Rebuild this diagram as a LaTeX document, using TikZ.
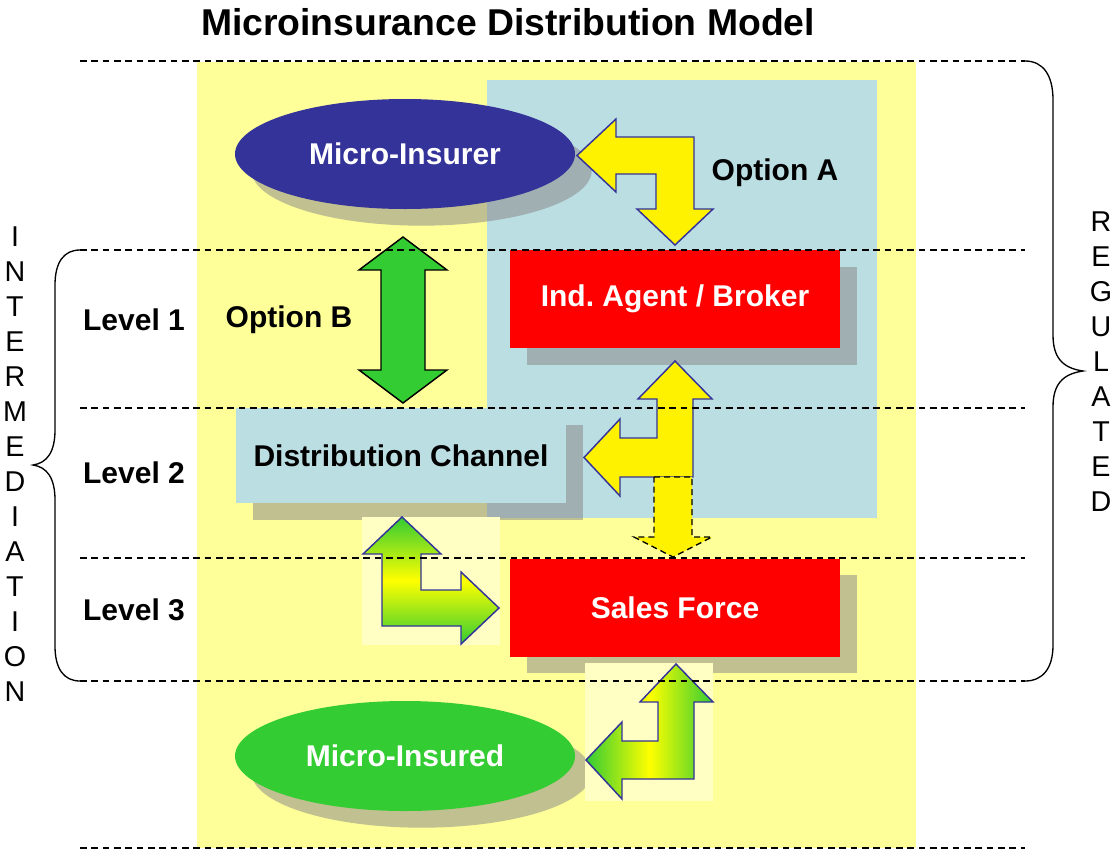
\documentclass[tikz,border=0pt]{standalone}
\usepackage{fontspec}
\setmainfont{Liberation Sans}
\usetikzlibrary{shapes.geometric,shadows}

\definecolor{paleyellow}{RGB}{255,255,153}
\definecolor{paleblue}{RGB}{187,222,227}
\definecolor{insurerblue}{RGB}{51,51,153}
\definecolor{insuredgreen}{RGB}{51,204,51}
\definecolor{agentred}{RGB}{255,0,0}
\definecolor{shadowgray}{RGB}{136,136,136}
\definecolor{glowyellow}{RGB}{255,255,196}

\begin{document}
\begin{tikzpicture}[
		x=0.75pt, y=-0.75pt,
		every node/.style={font=\fontsize{22.5}{27}\selectfont\bfseries},
		casts/.style={drop shadow={shadow xshift=12.5pt, shadow yshift=-12.5pt, fill=shadowgray, opacity=.53}},
		oval/.style={ellipse, minimum width=255pt, minimum height=82.5pt, inner sep=0pt, text=white, casts},
		redbox/.style={rectangle, fill=agentred, text=white, minimum width=247.5pt, minimum height=73.5pt, inner sep=0pt, casts},
		bluebox/.style={rectangle, fill=paleblue, minimum width=247.5pt, minimum height=71.25pt, inner sep=0pt, casts},
		levelline/.style={dash pattern=on 5pt off 3.5pt, line width=1pt},
		blockarrow/.style={draw=insurerblue, line width=1.1pt, line join=miter},
		brace/.style={line width=1pt},
		letters/.style={font=\fontsize{21.5}{26.25}\selectfont, align=center, inner sep=0pt},
	]
		\useasboundingbox (0,0) rectangle (1116,850);
		
		% background areas
		\fill[paleyellow] (197,62) rectangle (916,848);
		\fill[paleblue] (487,80) rectangle (877,518);
		
		\node (title) at (508,22) [font=\fontsize{28}{34}\selectfont\bfseries] {Microinsurance Distribution Model};
		
		% parties
		\node (insurer) [oval, fill=insurerblue] at (405,154) {Micro-Insurer};
		\node (agent) [redbox] at (675,299) {Ind.\ Agent / Broker};
		\node (channel) [bluebox] at (401,455.5) {Distribution Channel};
		\node (sales) [redbox] at (675,607.5) {Sales Force};
		\node (insured) [oval, fill=insuredgreen] at (405,756) {Micro-Insured};
		
		% option A
		\draw[blockarrow, fill=yellow] (577,155.5) -- (616,119) -- (616,137) -- (694,137) -- (694,209) -- (713,209) -- (675,245) -- (637,209) -- (656,209) -- (656,174) -- (616,174) -- (616,192) -- cycle;
		% option B
		\draw[line width=1.1pt, line join=miter, fill=insuredgreen] (403,237) -- (447,270) -- (425,270) -- (425,370) -- (447,370) -- (403,403) -- (359,370) -- (381,370) -- (381,270) -- (359,270) -- cycle;
		% agent to channel
		\draw[blockarrow, fill=yellow] (675,361) -- (712,399) -- (693,399) -- (693,477) -- (620,477) -- (620,496) -- (584,457.5) -- (620,419) -- (620,438) -- (657,438) -- (657,399) -- (638,399) -- cycle;
		\draw[dash pattern=on 4.5pt off 3pt, line width=1pt, fill=yellow] (654,477) -- (692,477) -- (692,537) -- (712,537) -- (673,557) -- (634,537) -- (654,537) -- cycle;
		% channel to sales force
		\fill[glowyellow] (362,517) rectangle (500,645);
		\draw[blockarrow, top color=insuredgreen, bottom color=insuredgreen, middle color=yellow] (402,517) -- (441,554) -- (421,554) -- (421,590) -- (461,590) -- (461,572) -- (499,608) -- (461,644) -- (461,626) -- (382,626) -- (382,554) -- (363,554) -- cycle;
		% sales force to insured
		\fill[glowyellow] (585,663) rectangle (713,801);
		\draw[blockarrow, left color=insuredgreen, right color=insuredgreen, middle color=yellow] (676,664) -- (713,702) -- (694,702) -- (694,779) -- (622,779) -- (622,799) -- (586,760) -- (622,722) -- (622,741) -- (658,741) -- (658,702) -- (640,702) -- cycle;
		
		% levels
		\foreach \y in {61,250,408,558,681,848}
			\draw[levelline] (80,\y) -- (1025,\y);
		
		\node (level1) at (134,320) {Level 1};
		\node (level2) at (134,473) {Level 2};
		\node (level3) at (134,610) {Level 3};
		\node (optionA) at (775,173) {Option A};
		\node (optionB) at (289,320) {Option B};
		
		% braces
		\draw[brace] (80,250) .. controls (64,250) and (55,262) .. (55,285) -- (55,430) .. controls (55,452) and (47,463) .. (33,465) .. controls (47,467) and (55,478) .. (55,500) -- (55,646) .. controls (55,669) and (64,681) .. (80,681);
		\draw[brace] (1025,61) .. controls (1043,61) and (1053,75) .. (1053,100) -- (1053,335) .. controls (1053,357) and (1062,368) .. (1083,371) .. controls (1062,374) and (1053,385) .. (1053,407) -- (1053,645) .. controls (1053,668) and (1043,681) .. (1025,681);
		
		\node (intermediation) [letters] at (15,464.5) {I\\N\\T\\E\\R\\M\\E\\D\\I\\A\\T\\I\\O\\N};
		\node (regulated) [letters] at (1101,362) {R\\E\\G\\U\\L\\A\\T\\E\\D};
	\end{tikzpicture}
\end{document}
